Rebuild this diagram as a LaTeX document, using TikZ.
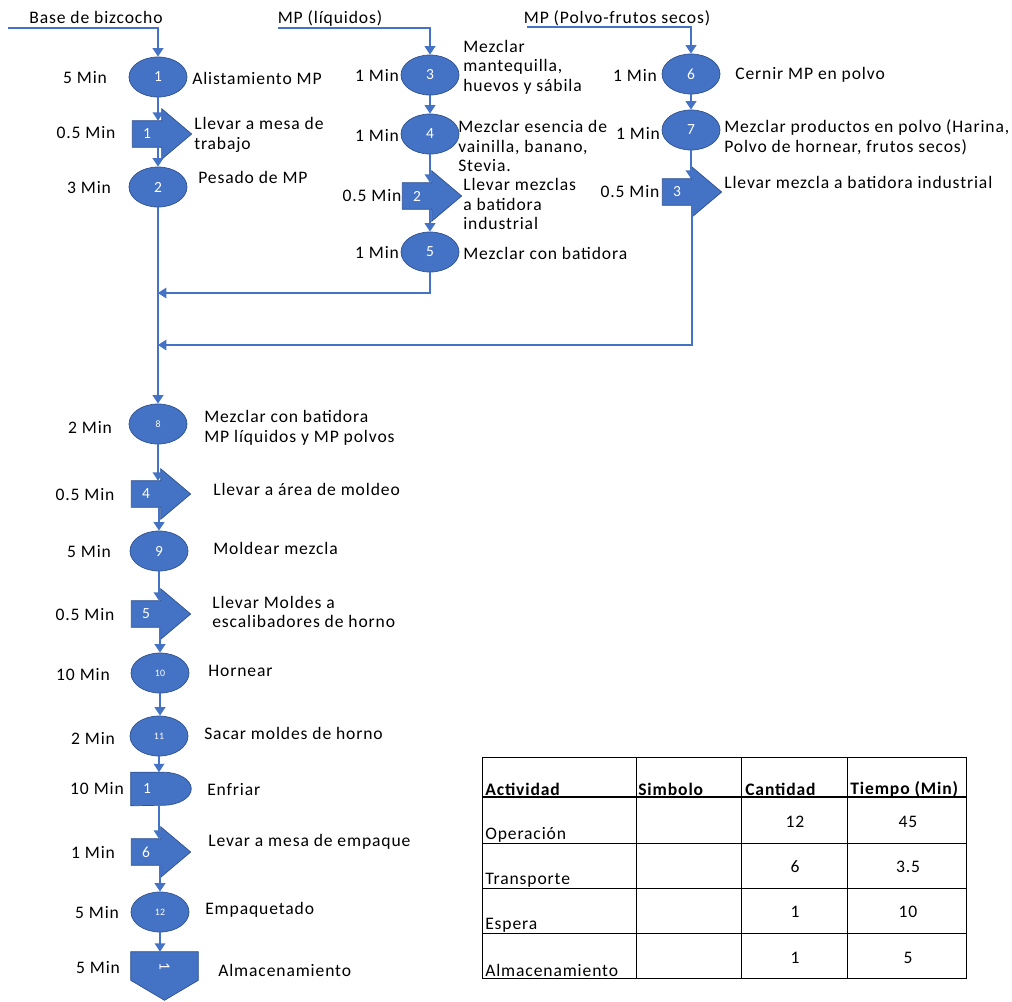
\documentclass[tikz,border=0pt]{standalone}
\usepackage{fontspec}
\setmainfont{Carlito}[LetterSpace=5]
\usepackage{tikz}
\usetikzlibrary{arrows.meta, positioning, calc, shapes.geometric, backgrounds}
\pgfdeclarelayer{background}
\pgfsetlayers{background,main}
\definecolor{opblue}{HTML}{4472C4}
\definecolor{opline}{HTML}{2F528F}
\newcommand{\lblfont}{\fontsize{12.5}{14}\selectfont}
% arrow head of a transport symbol, drawn behind its body node
\newcommand{\transhead}[1]{%
  \begin{pgfonlayer}{background}
    \filldraw[shapefill] (#1.north west) -- (#1.north east) -- ++(0,-12) -- ($(#1.east)+(30,0)$)
      -- ($(#1.south east)+(0,12)$) -- (#1.south east) -- (#1.south west) -- cycle;
  \end{pgfonlayer}}

\begin{document}
\begin{tikzpicture}[
    x=0.025cm, y=-0.025cm,
    flow/.style={draw=opblue, line width=1.3pt, -{Triangle[width=7.5pt,length=6pt]}},
    shapefill/.style={fill=opblue, draw=opline, line width=0.5pt},
    oper/.style={ellipse, shapefill, minimum width=1.45cm, minimum height=1cm, inner sep=0pt, text=white, font=\fontsize{11}{12}\selectfont},
    opsmall/.style={oper, font=\fontsize{7}{8}\selectfont},
    trans/.style={rectangle, minimum width=0.72cm, minimum height=0.65cm, inner sep=0pt, text=white, font=\fontsize{11}{12}\selectfont},
    tlabel/.style={font=\lblfont, inner sep=0pt},
    desc/.style={anchor=west, align=left, font=\lblfont, inner sep=0pt},
    tabline/.style={draw=black, line width=0.5pt},
    tabhead/.style={anchor=west, font=\lblfont\bfseries, inner sep=0pt},
    tabrow/.style={anchor=west, font=\lblfont, inner sep=0pt},
    tabcell/.style={font=\lblfont, inner sep=0pt}
]
    \useasboundingbox (0,0) rectangle (1012,1001);

    % --- Base de bizcocho
    \node[tlabel] (hbase) at (96,17) {Base de bizcocho};
    \coordinate (inbase) at (8,28);
    \node[oper] (o1) at (158,77) {1};
    \node[tlabel] (m1) at (85,78) {5 Min};
    \node[desc] (d1) at (192,78) {Alistamiento MP};

    \node[trans] (t1) at (147,134) {1};
    \transhead{t1}
    \node[tlabel] (mt1) at (86,133) {0.5 Min};
    \node[desc] (dt1) at (194,135) {Llevar a mesa de\\trabajo};

    \node[oper] (o2) at (158,187) {2};
    \node[tlabel] (m2) at (89,188) {3 Min};
    \node[desc] (d2) at (198,177) {Pesado de MP};

    % --- MP liquidos
    \node[tlabel] (hliq) at (330,18) {MP (líquidos)};
    \coordinate (inliq) at (278,28);
    \node[oper] (o3) at (430,75) {3};
    \node[tlabel] (m3) at (377,75) {1 Min};
    \node[desc] (d3) at (463,67) {Mezclar\\mantequilla,\\huevos y sábila};

    \node[oper] (o4) at (430,134) {4};
    \node[tlabel] (m4) at (377,135) {1 Min};
    \node[desc] (d4) at (458,146) {Mezclar esencia de\\vainilla, banano,\\Stevia.};

    \node[trans] (t2) at (417,196) {2};
    \transhead{t2}
    \node[tlabel] (mt2) at (372,196) {0.5 Min};
    \node[desc] (dt2) at (463,204) {Llevar mezclas\\a batidora\\industrial};

    \node[oper] (o5) at (430,252) {5};
    \node[tlabel] (m5) at (377,252) {1 Min};
    \node[desc] (d5) at (463,253) {Mezclar con batidora};

    % --- MP polvos
    \node[tlabel] (hpol) at (617,18) {MP (Polvo-frutos secos)};
    \coordinate (inpol) at (527,27);
    \node[oper] (o6) at (691,74) {6};
    \node[tlabel] (m6) at (635,75) {1 Min};
    \node[desc] (d6) at (735,75) {Cernir MP en polvo};

    \node[oper] (o7) at (691,130) {7};
    \node[tlabel] (m7) at (638,133) {1 Min};
    \node[desc] (d7) at (724,137) {Mezclar productos en polvo (Harina,\\Polvo de hornear, frutos secos)};

    \node[trans] (t3) at (677,192) {3};
    \transhead{t3}
    \node[tlabel] (mt3) at (630,192) {0.5 Min};
    \node[desc] (dt3) at (724,182) {Llevar mezcla a batidora industrial};

    % --- linea principal
    \coordinate (jliq) at (158,293);
    \coordinate (jpol) at (158,345);

    \node[opsmall] (o8) at (158,424) {8};
    \node[tlabel] (m8) at (90,427) {2 Min};
    \node[desc] (d8) at (204,428) {Mezclar con batidora\\MP líquidos y MP polvos};

    \node[trans] (t4) at (146,494) {4};
    \transhead{t4}
    \node[tlabel] (mt4) at (85,495) {0.5 Min};
    \node[desc] (dt4) at (213,489) {Llevar a área de moldeo};

    \node[oper] (o9) at (159,551) {9};
    \node[tlabel] (m9) at (89,552) {5 Min};
    \node[desc] (d9) at (213,548) {Moldear mezcla};

    \node[trans] (t5) at (146,614) {5};
    \transhead{t5}
    \node[tlabel] (mt5) at (85,615) {0.5 Min};
    \node[desc] (dt5) at (212,612) {Llevar Moldes a\\escalibadores de horno};

    \node[opsmall] (o10) at (160,673) {10};
    \node[tlabel] (m10) at (83,675) {10 Min};
    \node[desc] (d10) at (208,671) {Hornear};

    \node[opsmall] (o11) at (159,736) {11};
    \node[tlabel] (m11) at (93,738) {2 Min};
    \node[desc] (d11) at (204,733) {Sacar moldes de horno};

    \node[trans, minimum width=0.8cm, minimum height=0.825cm] (e1) at (147,789) {1};
    \begin{pgfonlayer}{background}
        \filldraw[shapefill] (e1.north west) -- (e1.north east)
            arc[start angle=-90, end angle=90, x radius=28, y radius=16.5] -- (e1.south west) -- cycle;
    \end{pgfonlayer}
    \node[tlabel] (me1) at (97,788) {10 Min};
    \node[desc] (de1) at (207,790) {Enfriar};

    \node[trans] (t6) at (146,852) {6};
    \transhead{t6}
    \node[tlabel] (mt6) at (93,852) {1 Min};
    \node[desc] (dt6) at (208,842) {Levar a mesa de empaque};

    \node[opsmall] (o12) at (160,912) {12};
    \node[tlabel] (m12) at (97,912) {5 Min};
    \node[desc] (d12) at (205,910) {Empaquetado};

    \node[trans, minimum width=1.675cm, minimum height=0.7cm] (alm) at (164.5,966) {\rotatebox{-90}{1}};
    \begin{pgfonlayer}{background}
        \filldraw[shapefill] (alm.north west) -- (alm.north east) -- (alm.south east)
            -- ($(alm.south)+(0,20)$) -- (alm.south west) -- cycle;
    \end{pgfonlayer}
    \node[tlabel] (malm) at (98,967) {5 Min};
    \node[desc] (dalm) at (218,970) {Almacenamiento};

    % --- conectores
    \draw[flow] (inbase) -| (o1.north);
    \draw[flow] (o1.south) -- (o1.south |- t1.north);
    \draw[flow] (o2.north |- t1.south) -- (o2.north);
    \draw[flow] (o2.south) -- (o8.north);

    \draw[flow] (inliq) -| (o3.north);
    \draw[flow] (o3.south) -- (o4.north);
    \draw[flow] (o4.south) -- (o4.south |- t2.north);
    \draw[flow] (o5.north |- t2.south) -- (o5.north);
    \draw[flow] (o5.south) |- (jliq);

    \draw[flow] (inpol) -| (o6.north);
    \draw[flow] (o6.south) -- (o7.north);
    \draw[flow] (o7.south) -- (o7.south |- t3.north);
    \draw[flow] (t3.south east) |- (jpol);

    \draw[flow] (o8.south) -- (o8.south |- t4.north);
    \draw[flow] (o9.north |- t4.south) -- (o9.north);
    \draw[flow] (o9.south) -- (o9.south |- t5.north);
    \draw[flow] (o10.north |- t5.south) -- (o10.north);
    \draw[flow] (o10.south) -- (o10.south |- o11.north);
    \draw[flow] (o11.south) -- (o11.south |- e1.north);
    \draw[flow] (o11.south |- e1.south) -- (o11.south |- t6.north);
    \draw[flow] (o12.north |- t6.south) -- (o12.north);
    \draw[flow] (o12.south) -- (o12.south |- alm.north);

    % --- tabla resumen
    \draw[tabline] (482,757) rectangle (966,978);
    \draw[tabline] (636,757) -- (636,978) (741,757) -- (741,978) (847,757) -- (847,978);
    \draw[tabline] (482,843) -- (966,843) (482,888) -- (966,888) (482,933) -- (966,933);
    \draw[tabline, line width=1.2pt] (482,797) -- (966,797);

    \node[tabhead] (hact) at (485,789) {Actividad};
    \node[tabhead] (hsim) at (638,789) {Simbolo};
    \node[tabhead] (hcan) at (745,789) {Cantidad};
    \node[tabhead] (htie) at (850,789) {Tiempo (Min)};

    \node[tabrow] (rop) at (485,835) {Operación};
    \node[tabrow] (rtr) at (485,880) {Transporte};
    \node[tabrow] (res) at (485,925) {Espera};
    \node[tabrow] (ral) at (485,970) {Almacenamiento};

    \node[tabcell] (cop) at (795,822) {12};
    \node[tabcell] (top) at (908,822) {45};
    \node[tabcell] (ctr) at (795,867) {6};
    \node[tabcell] (ttr) at (908,867) {3.5};
    \node[tabcell] (ces) at (795,912) {1};
    \node[tabcell] (tes) at (908,912) {10};
    \node[tabcell] (cal) at (795,958) {1};
    \node[tabcell] (tal) at (908,958) {5};
\end{tikzpicture}
\end{document}
